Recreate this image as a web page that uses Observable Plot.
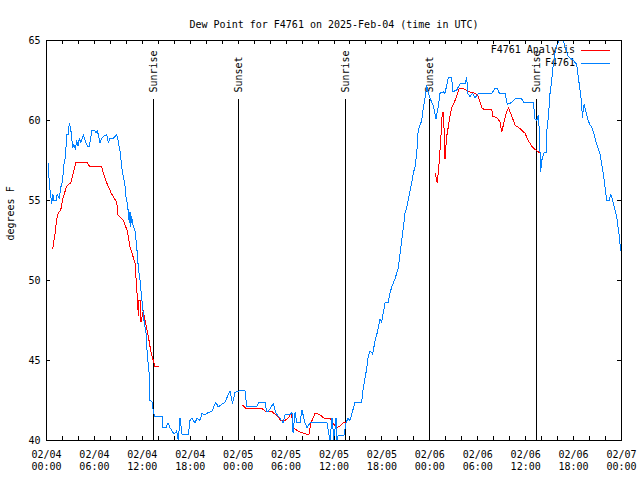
<!DOCTYPE html>
<html>
<head>
<meta charset="utf-8">
<script src="https://cdn.jsdelivr.net/npm/d3@7"></script>
<script src="https://cdn.jsdelivr.net/npm/@observablehq/plot@0.6"></script>
<style>
  html, body { margin: 0; padding: 0; background: #fff; }
</style>
</head>
<body>
<div id="chart"></div>
<script>
// Hours since 2025-02-04 00:00 UTC
const blueHours = [0.23,0.35,0.65,0.78,0.94,1.19,1.35,1.60,1.78,1.94,2.10,2.19,2.35,2.44,2.53,2.69,2.86,3.03,3.16,3.28,3.44,3.61,3.78,3.94,4.11,4.28,4.61,4.95,5.11,5.36,5.53,5.70,6.04,6.20,6.36,6.70,6.91,7.11,7.54,7.74,7.95,8.36,8.79,8.92,9.08,9.20,9.42,9.62,9.83,9.96,10.12,10.24,10.37,10.46,10.54,10.67,10.79,10.96,11.08,11.30,11.50,11.71,11.92,12.21,12.46,12.62,12.87,12.96,13.25,13.40,13.59,14.55,14.59,14.96,15.21,15.46,15.72,15.97,16.30,16.50,16.72,16.97,17.76,17.97,18.18,18.60,18.85,19.22,19.47,19.85,20.22,20.69,21.19,21.51,22.35,22.98,23.29,23.60,24.11,24.86,25.07,26.32,26.61,27.36,27.57,27.74,28.40,28.74,29.24,29.61,29.87,30.49,30.74,30.87,31.12,31.37,31.74,31.99,32.37,32.62,33.00,34.25,35.12,35.50,35.75,36.00,36.25,36.38,36.50,37.25,37.50,37.75,38.00,38.25,38.63,39.47,39.67,39.88,40.10,40.30,40.51,40.85,41.14,41.35,41.76,41.97,42.39,42.76,43.01,43.23,43.64,44.05,44.27,44.48,44.68,44.89,45.11,45.52,45.73,45.93,46.14,46.36,46.48,46.56,46.77,46.98,47.18,47.40,47.61,47.81,48.02,48.44,48.77,49.06,49.27,49.69,49.90,50.11,50.31,50.74,50.86,51.37,51.78,52.41,52.62,52.74,53.03,53.37,53.66,54.07,55.75,56.16,56.45,56.70,57.41,57.70,58.13,58.67,59.50,59.79,60.96,61.17,61.38,61.58,61.71,61.88,62.01,62.30,62.55,62.64,62.84,63.05,63.26,63.46,63.67,63.89,64.21,64.71,64.93,65.34,65.97,66.39,66.59,66.81,67.02,67.09,67.31,67.52,67.77,68.06,68.27,68.47,68.68,68.90,69.31,69.52,69.72,69.94,70.15,70.44,70.65,70.85,71.10,71.40,71.60,71.73,71.88];
const blueDew = [57.3,56.0,54.8,55.4,55.0,55.0,55.4,55.1,55.8,56.1,56.7,57.3,57.7,58.3,59.1,59.1,59.8,59.5,58.9,58.3,58.5,58.2,58.75,58.4,58.9,58.6,59.1,58.6,58.4,58.4,58.9,59.4,59.4,59.2,59.4,58.6,58.9,59.0,59.1,58.6,58.9,58.9,59.1,58.9,58.4,58.1,57.1,56.5,55.9,55.2,54.8,54.3,53.6,54.3,53.4,54.0,53.5,53.3,53.1,52.1,50.8,50.0,48.9,47.5,46.7,45.4,44.1,42.5,42.4,41.7,41.5,41.5,40.8,40.8,41.1,40.8,40.6,40.4,40.6,40.0,41.4,40.4,40.4,41.25,41.4,41.1,41.4,41.25,41.7,41.6,41.75,41.8,42.4,42.1,42.4,43.1,42.3,43.0,43.1,43.1,42.1,42.1,42.4,42.4,41.8,41.8,42.3,41.7,41.4,41.1,41.6,41.6,41.75,40.5,41.75,41.1,41.1,41.9,41.1,40.8,41.1,41.1,41.1,40.0,41.4,40.0,41.4,40.0,40.3,40.3,41.1,41.4,41.25,41.7,42.4,42.4,43.3,43.9,44.5,45.3,45.6,45.4,46.25,46.6,47.6,47.4,48.6,48.6,49.2,49.6,50.1,50.8,51.7,52.5,53.3,54.2,54.6,55.6,56.1,56.7,57.1,57.9,59.0,59.4,59.7,60.0,60.8,61.4,62.2,61.7,61.4,60.9,60.1,60.9,61.7,61.8,61.7,62.2,62.7,62.7,61.8,61.9,62.3,62.3,62.7,61.7,61.5,61.7,61.4,61.7,61.7,62.0,62.0,61.7,61.7,61.0,61.1,61.35,61.35,61.1,61.1,60.1,60.0,60.3,59.4,56.8,57.5,58.0,58.0,59.3,60.2,61.7,62.5,63.5,64.2,64.7,65.0,65.0,64.6,64.0,63.75,63.5,62.7,61.9,61.0,60.2,61.0,60.6,60.1,59.7,59.6,59.3,58.9,58.5,57.9,57.3,56.7,55.8,55.0,55.0,55.4,55.1,54.6,54.0,53.2,52.8,51.9];

// Analysis series (null = gap in the data)
const redHours = [0.78,1.06,1.25,1.48,1.78,2.03,2.53,3.03,3.36,3.69,5.03,5.45,6.91,7.11,7.54,8.16,8.79,8.95,9.62,10.12,10.46,11.08,11.30,11.50,11.58,11.71,11.83,12.12,12.42,12.75,13.09,13.37,13.59,14.00,19.0,24.57,24.98,26.99,27.49,28.24,28.74,29.36,29.87,30.37,30.62,30.99,31.49,31.87,32.50,32.87,33.12,33.62,33.87,34.25,34.75,35.50,35.88,36.25,36.75,37.13,37.59,43.0,48.65,48.94,49.15,49.36,49.56,49.71,49.90,50.11,50.31,50.53,50.74,51.15,51.69,52.19,52.82,53.66,54.07,54.50,54.78,55.75,55.87,56.37,56.79,57.00,57.20,57.54,57.83,58.25,58.67,59.29,59.92,60.33,60.76,61.17,61.71,61.88];
const redDew = [52.0,52.9,53.75,54.25,54.4,55.1,55.9,56.1,56.75,57.4,57.4,57.1,57.1,56.7,56.1,55.4,54.9,54.1,53.75,53.1,52.1,51.1,49.5,47.8,48.75,48.75,47.4,48.1,47.3,46.5,45.5,45.0,44.6,44.6,null,42.2,42.0,42.0,41.8,41.8,41.6,41.25,41.25,41.45,41.7,40.75,40.6,40.5,40.4,40.4,41.1,41.7,41.7,41.6,41.4,41.4,41.1,40.8,40.9,41.1,41.1,null,56.7,56.1,57.3,58.75,60.5,60.5,57.6,59.0,59.6,60.3,60.8,61.25,62.0,62.0,61.8,61.7,61.5,60.8,60.7,60.7,60.25,60.2,59.9,59.3,59.7,60.4,60.8,60.3,59.7,59.5,59.2,58.75,58.4,58.2,58.0,57.95];

const eventNames = ["Sunrise", "Sunset", "Sunrise", "Sunset", "Sunrise"];
const eventHours = [13.34, 23.98, 37.38, 47.9, 61.3];

const xTickHours = [0, 6, 12, 18, 24, 30, 36, 42, 48, 54, 60, 66, 72];
const xTickLabels = ["02/04\n00:00","02/04\n06:00","02/04\n12:00","02/04\n18:00","02/05\n00:00","02/05\n06:00","02/05\n12:00","02/05\n18:00","02/06\n00:00","02/06\n06:00","02/06\n12:00","02/06\n18:00","02/07\n00:00"];
const xMinorTicks = [0,2,4,6,8,10,12,14,16,18,20,22,24,26,28,30,32,34,36,38,40,42,44,46,48,50,52,54,56,58,60,62,64,66,68,70,72];
const yTicks = [40, 45, 50, 55, 60, 65];

const titleText = "Dew Point for F4761 on 2025-Feb-04 (time in UTC)";
const yLabel = "degrees F";
const seriesNames = ["F4761 Analysis", "F4761"];
const seriesColors = ["#ff0000", "#0080ff"];

const blue = blueHours.map((h, i) => ({h, v: blueDew[i]}));
const red = redHours.map((h, i) => ({h, v: redDew[i]}));
const events = eventHours.map((h, i) => ({h, name: eventNames[i]}));
const labelMap = new Map(xTickHours.map((h, i) => [h, xTickLabels[i]]));

const W = 640, H = 480;
const mL = 46, mR = 19, mT = 40, mB = 40;
const fw = W - mL - mR, fh = H - mT - mB;
const font = "'DejaVu Sans Mono', monospace";

const plot = Plot.plot({
  width: W, height: H,
  marginLeft: mL, marginRight: mR, marginTop: mT, marginBottom: mB,
  style: {fontFamily: font, fontSize: "10px", background: "#fff", color: "#000"},
  x: {type: "linear", domain: [0, 72], axis: null},
  y: {type: "linear", domain: [40, 65], axis: null},
  marks: [
    Plot.ruleX(events, {x: "h", insetTop: 59, stroke: "#000", shapeRendering: "crispEdges"}),
    Plot.text(events, {x: "h", text: "name", frameAnchor: "top", dy: 52, dx: 1, rotate: -90, textAnchor: "start", lineAnchor: "middle", fill: "#000"}),
    Plot.line(red, {x: "h", y: "v", stroke: seriesColors[0], strokeWidth: 1, clip: true, shapeRendering: "crispEdges"}),
    Plot.line(blue, {x: "h", y: "v", stroke: seriesColors[1], strokeWidth: 1, clip: true, shapeRendering: "crispEdges"}),
    Plot.tickX(xMinorTicks, {x: d => d, insetTop: fh - 4, stroke: "#000", shapeRendering: "crispEdges"}),
    Plot.tickX(xMinorTicks, {x: d => d, insetBottom: fh - 4, stroke: "#000", shapeRendering: "crispEdges"}),
    Plot.tickY(yTicks, {y: d => d, insetRight: fw - 4, stroke: "#000", shapeRendering: "crispEdges"}),
    Plot.tickY(yTicks, {y: d => d, insetLeft: fw - 4, stroke: "#000", shapeRendering: "crispEdges"}),
    Plot.axisX({ticks: xTickHours, tickFormat: d => labelMap.get(d), tickSize: 0, tickPadding: 9, lineHeight: 1.2, label: null, fill: "#000"}),
    Plot.axisY({ticks: yTicks, tickSize: 0, tickPadding: 6, label: null, fill: "#000"}),
    Plot.frame({stroke: "#000", shapeRendering: "crispEdges"}),
    Plot.text([titleText], {text: d => d, frameAnchor: "top", dy: -20, fill: "#000"}),
    Plot.text([yLabel], {text: d => d, frameAnchor: "left", dx: -36, rotate: -90, fill: "#000"})
  ]
});

// Key (top right, inside the frame), placed beneath the data lines as in the original
const svg = d3.select(plot);
const firstLine = plot.querySelector('g[aria-label="line"]');
const keyG = svg.insert("g", () => firstLine).attr("class", "key");
const keyRows = [50, 63];
seriesNames.forEach((name, i) => {
  keyG.append("text")
    .attr("x", 575).attr("y", keyRows[i]).attr("dy", "0.32em")
    .attr("text-anchor", "end")
    .style("fill", "#000")
    .style("font-family", font).style("font-size", "10px")
    .text(name);
  keyG.append("path")
    .attr("d", `M581,${keyRows[i] + 0.5}H610`)
    .style("stroke", seriesColors[i]).style("stroke-width", "1px").style("fill", "none");
});

document.getElementById("chart").appendChild(plot);
</script>
</body>
</html>
